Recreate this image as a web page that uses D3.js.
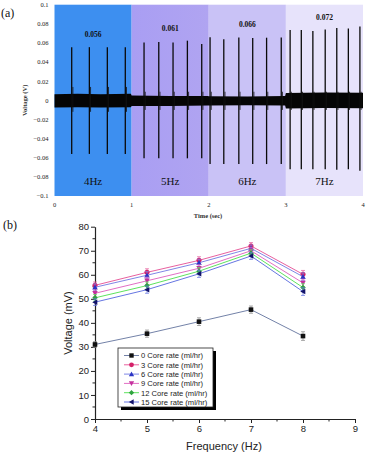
<!DOCTYPE html>
<html>
<head>
<meta charset="utf-8">
<script src="https://cdn.jsdelivr.net/npm/d3@7"></script>
<style>
  body { margin: 0; background: #fff; }
  svg { display: block; }
</style>
</head>
<body>
<svg id="chart" width="367" height="453"></svg>
<script>
// ---- panel (a) data ----
const bandLabels = ["4Hz", "5Hz", "6Hz", "7Hz"];
const bandStart = [0, 1, 2, 3];
const bandEnd = [1, 2, 3, 4];
const bandColors = ["#3d8ff0", "#a99df2", "#c9c2f6", "#e7e3fb"];
const bandPeak = ["0.056", "0.061", "0.066", "0.072"];
const peakLabelY = [0.066, 0.072, 0.077, 0.084];

const spikeTime = [0.223, 0.452, 0.685, 0.918,
  1.161, 1.352, 1.537, 1.723, 1.909,
  2.017, 2.195, 2.39, 2.57, 2.75, 2.94,
  3.055, 3.20, 3.35, 3.51, 3.66, 3.81, 3.96];
const spikeHigh = [0.0554, 0.0556, 0.0555, 0.0554,
  0.0606, 0.0610, 0.0606, 0.0624, 0.0589,
  0.0659, 0.0640, 0.0656, 0.0652, 0.0655, 0.0656,
  0.0735, 0.0735, 0.0725, 0.0742, 0.0756, 0.0750, 0.0773];
const spikeLow = [-0.056, -0.056, -0.056, -0.056,
  -0.0606, -0.0606, -0.0606, -0.0606, -0.0606,
  -0.0666, -0.0666, -0.0666, -0.0666, -0.0666, -0.0666,
  -0.072, -0.072, -0.072, -0.072, -0.0725, -0.072, -0.0735];

// noise envelope of the baseline
const noiseTime = [0, 0.3, 0.6, 0.99, 1.0, 1.5, 1.99, 2.0, 2.5, 2.99, 3.0, 3.5, 4.0];
const noiseTop = [0.0065, 0.007, 0.0065, 0.0068, 0.005, 0.0045, 0.0045, 0.0042, 0.004, 0.0045, 0.0078, 0.0082, 0.008];
const noiseBot = [-0.0075, -0.0072, -0.0075, -0.0072, -0.006, -0.0058, -0.0055, -0.0055, -0.0052, -0.0055, -0.0085, -0.008, -0.0082];

const aTicksY = [0.1, 0.08, 0.06, 0.04, 0.02, 0, -0.02, -0.04, -0.06, -0.08, -0.1];
const aTicksX = [0, 1, 2, 3, 4];

// ---- panel (b) data ----
const freq = [4, 5, 6, 7, 8];
const seriesNames = ["0 Core rate (ml/hr)", "3 Core rate (ml/hr)", "6 Core rate (ml/hr)",
  "9 Core rate (ml/hr)", "12 Core rate (ml/hr)", "15 Core rate (ml/hr)"];
const v0 = [31, 35.5, 40.5, 45.5, 34.5];
const v3 = [55.6, 61, 66, 72, 60.2];
const v6 = [54.8, 59.8, 65, 71, 59.2];
const v9 = [52.3, 57.5, 62.7, 70, 56.6];
const v12 = [50.4, 55.5, 61.5, 69, 54.7];
const v15 = [48.6, 53.8, 60.4, 67.8, 53];
const err0 = [1.2, 1.5, 1.6, 1.5, 1.8];
const errN = [1.4, 1.5, 1.5, 1.4, 1.6];
const seriesValues = [v0, v3, v6, v9, v12, v15];
const lineColors = ["#7382a8", "#e8609f", "#7f86e6", "#e26ec4", "#5ee35e", "#6676e2"];
const markColors = ["#111111", "#d42068", "#2b34c4", "#c4309e", "#2ea33e", "#12126a"];
const markShapes = ["square", "circle", "up", "down", "diamond", "left"];

const bTicksY = [0, 10, 20, 30, 40, 50, 60, 70, 80];
const bTicksX = [4, 5, 6, 7, 8, 9];

const svg = d3.select("#chart");

// ================= panel (a) =================
const ax = d3.scaleLinear().domain([0, 4]).range([54.5, 363]);
const ay = d3.scaleLinear().domain([-0.1, 0.1]).range([196, 4.7]);
const serif = "Liberation Serif, Times New Roman, serif";
const sans = "Liberation Sans, Arial, sans-serif";

const pa = svg.append("g");

// gradient for the 5Hz band (slightly darker on the right)
const defs = svg.append("defs");
const grad = defs.append("linearGradient").attr("id", "g5");
grad.append("stop").attr("offset", "0%").attr("stop-color", "#a99ef3");
grad.append("stop").attr("offset", "100%").attr("stop-color", "#b0a4f1");

pa.selectAll(".band")
  .data(bandLabels)
  .enter()
  .append("rect")
  .attr("x", (d, i) => ax(bandStart[i]))
  .attr("width", (d, i) => ax(bandEnd[i]) - ax(bandStart[i]))
  .attr("y", ay(0.1))
  .attr("height", ay(-0.1) - ay(0.1))
  .attr("fill", (d, i) => i === 1 ? "url(#g5)" : bandColors[i]);

// baseline noise
const noise = d3.area()
  .x((d, i) => ax(noiseTime[i]))
  .y0((d, i) => ay(noiseBot[i]))
  .y1((d, i) => ay(noiseTop[i]));
pa.append("path")
  .datum(noiseTime)
  .attr("d", noise)
  .attr("fill", "#050505");

// spikes
pa.selectAll(".spike")
  .data(spikeTime)
  .enter()
  .append("line")
  .attr("x1", d => ax(d))
  .attr("x2", d => ax(d))
  .attr("y1", (d, i) => ay(spikeHigh[i]))
  .attr("y2", (d, i) => ay(spikeLow[i]))
  .attr("stroke", "#0a0a0a")
  .attr("stroke-width", 1.3);

// small after-pulses
pa.selectAll(".echo")
  .data(spikeTime)
  .enter()
  .append("line")
  .attr("x1", d => ax(d) + 1.2)
  .attr("x2", d => ax(d) + 1.2)
  .attr("y1", (d, i) => ay(i < 4 ? 0.014 : 0.009))
  .attr("y2", (d, i) => ay(i < 4 ? -0.012 : -0.01))
  .attr("stroke", "#111")
  .attr("stroke-width", 0.8);

// peak values
pa.selectAll(".peak")
  .data(bandPeak)
  .enter()
  .append("text")
  .attr("x", (d, i) => (ax(bandStart[i]) + ax(bandEnd[i])) / 2)
  .attr("y", (d, i) => ay(peakLabelY[i]))
  .attr("text-anchor", "middle")
  .attr("font-family", serif)
  .attr("font-size", 7.5)
  .attr("font-weight", "bold")
  .attr("fill", "#111")
  .text(d => d);

// band labels
pa.selectAll(".blabel")
  .data(bandLabels)
  .enter()
  .append("text")
  .attr("x", (d, i) => (ax(bandStart[i]) + ax(bandEnd[i])) / 2)
  .attr("y", ay(-0.089))
  .attr("text-anchor", "middle")
  .attr("font-family", serif)
  .attr("font-size", 11)
  .attr("fill", "#111")
  .text(d => d);

// y axis (labels only)
pa.selectAll(".aty")
  .data(aTicksY)
  .enter()
  .append("text")
  .attr("x", 48.5)
  .attr("y", d => ay(d) + 2.3)
  .attr("text-anchor", "end")
  .attr("font-family", serif)
  .attr("font-size", 6.5)
  .attr("fill", "#222")
  .text(d => d3.format("")(+d.toFixed(2)));

pa.selectAll(".atx")
  .data(aTicksX)
  .enter()
  .append("text")
  .attr("x", d => ax(d))
  .attr("y", 207)
  .attr("text-anchor", "middle")
  .attr("font-family", serif)
  .attr("font-size", 6.5)
  .attr("fill", "#222")
  .text(d => d);

pa.append("text")
  .attr("x", 208)
  .attr("y", 218)
  .attr("text-anchor", "middle")
  .attr("font-family", serif)
  .attr("font-size", 6.5)
  .attr("font-weight", "bold")
  .attr("fill", "#333")
  .text("Time (sec)");

pa.append("text")
  .attr("transform", "translate(27," + ay(0) + ") rotate(-90)")
  .attr("text-anchor", "middle")
  .attr("font-family", serif)
  .attr("font-size", 6.5)
  .attr("font-weight", "bold")
  .attr("fill", "#333")
  .text("Voltage (V)");

pa.append("text")
  .attr("x", 1)
  .attr("y", 17)
  .attr("font-family", serif)
  .attr("font-size", 12)
  .attr("fill", "#111")
  .text("(a)");

// ================= panel (b) =================
const bx = d3.scaleLinear().domain([4, 9]).range([95, 355]);
const by = d3.scaleLinear().domain([0, 80]).range([419, 226.7]);
const pb = svg.append("g");

pb.append("text")
  .attr("x", 3)
  .attr("y", 229)
  .attr("font-family", serif)
  .attr("font-size", 12)
  .attr("fill", "#111")
  .text("(b)");

// axes
const xAxis = d3.axisBottom(bx).tickValues(bTicksX).tickFormat(d3.format("d"))
  .tickSize(4).tickSizeOuter(0).tickPadding(2);
const yAxis = d3.axisLeft(by).tickValues(bTicksY).tickFormat(d3.format("d"))
  .tickSize(4).tickSizeOuter(0).tickPadding(2);

const gx = pb.append("g").attr("transform", "translate(0,419)").call(xAxis);
const gy = pb.append("g").attr("transform", "translate(95,0)").call(yAxis);
[gx, gy].forEach(g => {
  g.select(".domain").attr("stroke", "#222").attr("stroke-width", 1.2);
  g.selectAll(".tick line").attr("stroke", "#222").attr("stroke-width", 1);
  g.selectAll(".tick text").attr("font-family", sans).attr("font-size", 9.5).attr("fill", "#222");
});

// minor ticks
pb.selectAll(".mx")
  .data(bTicksX.slice(0, -1))
  .enter()
  .append("line")
  .attr("x1", d => bx(d + 0.5)).attr("x2", d => bx(d + 0.5))
  .attr("y1", 419).attr("y2", 421.5)
  .attr("stroke", "#222");
pb.selectAll(".my")
  .data(bTicksY.slice(0, -1))
  .enter()
  .append("line")
  .attr("y1", d => by(d + 5)).attr("y2", d => by(d + 5))
  .attr("x1", 95).attr("x2", 92.5)
  .attr("stroke", "#222");

pb.append("text")
  .attr("x", 224)
  .attr("y", 450)
  .attr("text-anchor", "middle")
  .attr("font-family", sans)
  .attr("font-size", 11)
  .attr("fill", "#222")
  .text("Frequency (Hz)");

pb.append("text")
  .attr("transform", "translate(72,323) rotate(-90)")
  .attr("text-anchor", "middle")
  .attr("font-family", sans)
  .attr("font-size", 11)
  .attr("fill", "#222")
  .text("Voltage (mV)");

function markerPath(shape, size) {
  const s = size;
  if (shape === "square") return `M${-s},${-s}H${s}V${s}H${-s}Z`;
  if (shape === "circle") return d3.symbol(d3.symbolCircle, Math.PI * s * s * 1.2)();
  if (shape === "diamond") return `M0,${-s * 1.2}L${s * 1.2},0L0,${s * 1.2}L${-s * 1.2},0Z`;
  if (shape === "up") return `M0,${-s * 1.2}L${s * 1.2},${s}L${-s * 1.2},${s}Z`;
  if (shape === "down") return `M0,${s * 1.2}L${s * 1.2},${-s}L${-s * 1.2},${-s}Z`;
  if (shape === "left") return `M${-s * 1.2},0L${s},${-s * 1.2}L${s},${s * 1.2}Z`;
}

const line = d3.line()
  .x((d, i) => bx(freq[i]))
  .y(d => by(d));

seriesValues.forEach((vals, k) => {
  const g = pb.append("g");
  const errs = k === 0 ? err0 : errN;
  // error bars
  g.selectAll(".err")
    .data(vals)
    .enter()
    .append("path")
    .attr("d", (d, i) => {
      const x = bx(freq[i]), yt = by(d + errs[i]), yb = by(d - errs[i]);
      return `M${x},${yt}V${yb}M${x - 2},${yt}H${x + 2}M${x - 2},${yb}H${x + 2}`;
    })
    .attr("fill", "none")
    .attr("stroke", k === 0 ? "#888" : lineColors[k])
    .attr("stroke-width", 0.9)
    .attr("opacity", 0.8);
  g.append("path")
    .datum(vals)
    .attr("d", line)
    .attr("fill", "none")
    .attr("stroke", lineColors[k])
    .attr("stroke-width", 1);
  g.selectAll(".mk")
    .data(vals)
    .enter()
    .append("path")
    .attr("transform", (d, i) => `translate(${bx(freq[i])},${by(d)})`)
    .attr("d", markerPath(markShapes[k], 2.3))
    .attr("fill", markColors[k]);
});

// legend
const lg = pb.append("g");
const lgX = 118, lgY = 348, lgW = 95, lgH = 59;
lg.append("rect")
  .attr("x", lgX + 3).attr("y", lgY + 3)
  .attr("width", lgW).attr("height", lgH)
  .attr("fill", "#000");
lg.append("rect")
  .attr("x", lgX).attr("y", lgY)
  .attr("width", lgW).attr("height", lgH)
  .attr("fill", "#fff")
  .attr("stroke", "#222")
  .attr("stroke-width", 0.8);

const rowY = d3.scaleLinear().domain([0, 5]).range([lgY + 7.5, lgY + 54]);
const item = lg.selectAll(".item")
  .data(seriesNames)
  .enter()
  .append("g")
  .attr("transform", (d, i) => `translate(0,${rowY(i)})`);
item.append("line")
  .attr("x1", 124).attr("x2", 139)
  .attr("stroke", (d, i) => lineColors[i])
  .attr("stroke-width", 1);
item.append("path")
  .attr("transform", "translate(131.5,0)")
  .attr("d", (d, i) => markerPath(markShapes[i], 2.2))
  .attr("fill", (d, i) => markColors[i]);
item.append("text")
  .attr("x", 141)
  .attr("y", 2.8)
  .attr("font-family", sans)
  .attr("font-size", 7.6)
  .attr("fill", "#222")
  .text(d => d);
</script>
</body>
</html>
